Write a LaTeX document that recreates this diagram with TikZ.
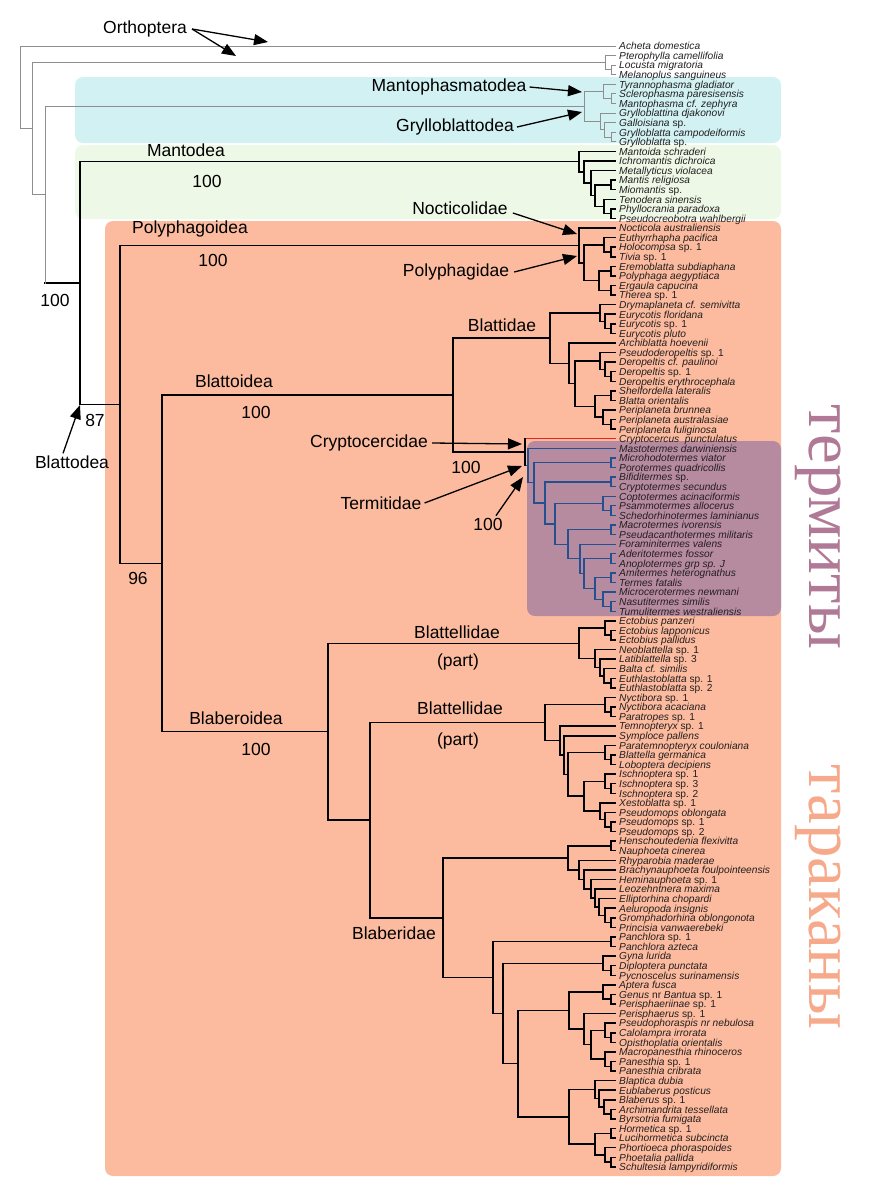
\documentclass[tikz,border=0pt]{standalone}
\usepackage{fontspec}
\setmainfont{Liberation Sans}
\newfontfamily\rufont{Liberation Serif}
\usetikzlibrary{arrows.meta}
\definecolor{trgray}{HTML}{8E8E8E}
\definecolor{trblue}{HTML}{24508F}
\definecolor{trred}{HTML}{E8221C}
\definecolor{spdark}{HTML}{231F20}
\definecolor{boxcyan}{HTML}{D1F1F3}
\definecolor{boxgreen}{HTML}{EEF8E7}
\definecolor{boxsalmon}{HTML}{FCBB9E}
\definecolor{boxmauve}{HTML}{B68A9F}
\definecolor{rumauve}{HTML}{B07A96}
\definecolor{rusalmon}{HTML}{F6AA8B}

\tikzset{
  sp/.style={anchor=base west, inner sep=0pt, text=spdark,
    font=\fontsize{10.2}{10}\selectfont\itshape},
  br/.style={line cap=rect},
  bk/.style={black, line width=1.5pt},
  gy/.style={trgray, line width=1pt},
  rd/.style={trred, line width=1.3pt},
  bu/.style={trblue, line width=1.3pt},
  lab/.style={inner sep=0pt, font=\fontsize{17.5}{18}\selectfont},
  ptr/.style={line width=1.3pt, -{Triangle[length=14pt,width=11pt]}},
  rulab/.style={rotate=-90, inner sep=0pt, font=\rufont\fontsize{67}{67}\selectfont},
}

% upright part of a species name
\newcommand\upt[1]{{\upshape #1}}
% a leaf: [line style]{id}{row}{name}
\newcommand\tip[4][bk]{%
  \pgfmathsetmacro\tipy{46+(#3-1)*9.58}%
  \expandafter\xdef\csname tx#2\endcsname{615}%
  \expandafter\xdef\csname ty#2\endcsname{\tipy}%
  \expandafter\xdef\csname tc#2\endcsname{#1}%
  \node[sp] (#2) at (619,\tipy+3.8) {#4};%
}
% an inner fork: [line style]{id}{x}{upper child}{lower child}
\newcommand\clade[5][bk]{%
  \edef\ya{\csname ty#4\endcsname}\edef\yb{\csname ty#5\endcsname}%
  \edef\xa{\csname tx#4\endcsname}\edef\xb{\csname tx#5\endcsname}%
  \edef\ca{\csname tc#4\endcsname}\edef\cb{\csname tc#5\endcsname}%
  \pgfmathsetmacro\ym{(\ya+\yb)/2}%
  \expandafter\xdef\csname tx#2\endcsname{#3}%
  \expandafter\xdef\csname ty#2\endcsname{\ym}%
  \expandafter\xdef\csname tc#2\endcsname{#1}%
  \edef\drawa{\noexpand\draw[br,\ca]}\edef\drawb{\noexpand\draw[br,\cb]}%
  \drawa (#3,\ya) -- (\xa,\ya);
  \drawb (#3,\yb) -- (\xb,\yb);
  \draw[br,#1] (#3,\ya) -- (#3,\yb);
}

\begin{document}
\begin{tikzpicture}[x=1pt,y=-1pt]
  \useasboundingbox (0,0) rectangle (873,1200);

  % ---- coloured panels ---------------------------------------
  \fill[boxcyan,rounded corners=8pt]   (75,77)   rectangle (781,143);
  \fill[boxgreen,rounded corners=8pt]  (75,145)  rectangle (781,219);
  \fill[boxsalmon,rounded corners=8pt] (105,221) rectangle (781,1176);
  \fill[boxmauve,rounded corners=8pt]  (527,441) rectangle (781,616);

  % ---- leaves -------------------------------------------------
  \tip[gy]{s1}{1}{Acheta domestica}
  \tip[gy]{s2}{2}{Pterophylla camellifolia}
  \tip[gy]{s3}{3}{Locusta migratoria}
  \tip[gy]{s4}{4}{Melanoplus sanguineus}
  \tip[gy]{s5}{5}{Tyrannophasma gladiator}
  \tip[gy]{s6}{6}{Sclerophasma paresisensis}
  \tip[gy]{s7}{7}{Mantophasma cf. zephyra}
  \tip[gy]{s8}{8}{Grylloblattina djakonovi}
  \tip[gy]{s9}{9}{Galloisiana \upt{sp.}}
  \tip[gy]{s10}{10}{Grylloblatta campodeiformis}
  \tip[gy]{s11}{11}{Grylloblatta \upt{sp.}}
  \tip{s12}{12}{Mantoida schraderi}
  \tip{s13}{13}{Ichromantis dichroica}
  \tip{s14}{14}{Metallyticus violacea}
  \tip{s15}{15}{Mantis religiosa}
  \tip{s16}{16}{Miomantis \upt{sp.}}
  \tip{s17}{17}{Tenodera sinensis}
  \tip{s18}{18}{Phyllocrania paradoxa}
  \tip{s19}{19}{Pseudocreobotra wahlbergii}
  \tip{s20}{20}{Nocticola australiensis}
  \tip{s21}{21}{Euthyrrhapha pacifica}
  \tip{s22}{22}{Holocompsa \upt{sp. 1}}
  \tip{s23}{23}{Tivia \upt{sp. 1}}
  \tip{s24}{24}{Eremoblatta subdiaphana}
  \tip{s25}{25}{Polyphaga aegyptiaca}
  \tip{s26}{26}{Ergaula capucina}
  \tip{s27}{27}{Therea \upt{sp. 1}}
  \tip{s28}{28}{Drymaplaneta cf. semivitta}
  \tip{s29}{29}{Eurycotis floridana}
  \tip{s30}{30}{Eurycotis \upt{sp. 1}}
  \tip{s31}{31}{Eurycotis pluto}
  \tip{s32}{32}{Archiblatta hoevenii}
  \tip{s33}{33}{Pseudoderopeltis \upt{sp. 1}}
  \tip{s34}{34}{Deropeltis cf. paulinoi}
  \tip{s35}{35}{Deropeltis \upt{sp. 1}}
  \tip{s36}{36}{Deropeltis erythrocephala}
  \tip{s37}{37}{Shelfordella lateralis}
  \tip{s38}{38}{Blatta orientalis}
  \tip{s39}{39}{Periplaneta brunnea}
  \tip{s40}{40}{Periplaneta australasiae}
  \tip{s41}{41}{Periplaneta fuliginosa}
  \tip[rd]{s42}{42}{Cryptocercus\ \ punctulatus}
  \tip[bu]{s43}{43}{Mastotermes darwiniensis}
  \tip[bu]{s44}{44}{Microhodotermes viator}
  \tip[bu]{s45}{45}{Porotermes quadricollis}
  \tip[bu]{s46}{46}{Bifiditermes \upt{sp.}}
  \tip[bu]{s47}{47}{Cryptotermes secundus}
  \tip[bu]{s48}{48}{Coptotermes acinaciformis}
  \tip[bu]{s49}{49}{Psammotermes allocerus}
  \tip[bu]{s50}{50}{Schedorhinotermes laminianus}
  \tip[bu]{s51}{51}{Macrotermes ivorensis}
  \tip[bu]{s52}{52}{Pseudacanthotermes militaris}
  \tip[bu]{s53}{53}{Foraminitermes valens}
  \tip[bu]{s54}{54}{Aderitotermes fossor}
  \tip[bu]{s55}{55}{Anoplotermes grp sp. J}
  \tip[bu]{s56}{56}{Amitermes heterognathus}
  \tip[bu]{s57}{57}{Termes fatalis}
  \tip[bu]{s58}{58}{Microcerotermes newmani}
  \tip[bu]{s59}{59}{Nasutitermes similis}
  \tip[bu]{s60}{60}{Tumulitermes westraliensis}
  \tip{s61}{61}{Ectobius panzeri}
  \tip{s62}{62}{Ectobius lapponicus}
  \tip{s63}{63}{Ectobius pallidus}
  \tip{s64}{64}{Neoblattella \upt{sp. 1}}
  \tip{s65}{65}{Latiblattella \upt{sp. 3}}
  \tip{s66}{66}{Balta cf. similis}
  \tip{s67}{67}{Euthlastoblatta \upt{sp. 1}}
  \tip{s68}{68}{Euthlastoblatta \upt{sp. 2}}
  \tip{s69}{69}{Nyctibora \upt{sp. 1}}
  \tip{s70}{70}{Nyctibora acaciana}
  \tip{s71}{71}{Paratropes \upt{sp. 1}}
  \tip{s72}{72}{Temnopteryx \upt{sp. 1}}
  \tip{s73}{73}{Symploce pallens}
  \tip{s74}{74}{Paratemnopteryx couloniana}
  \tip{s75}{75}{Blattella germanica}
  \tip{s76}{76}{Loboptera decipiens}
  \tip{s77}{77}{Ischnoptera \upt{sp. 1}}
  \tip{s78}{78}{Ischnoptera \upt{sp. 3}}
  \tip{s79}{79}{Ischnoptera \upt{sp. 2}}
  \tip{s80}{80}{Xestoblatta \upt{sp. 1}}
  \tip{s81}{81}{Pseudomops oblongata}
  \tip{s82}{82}{Pseudomops \upt{sp. 1}}
  \tip{s83}{83}{Pseudomops \upt{sp. 2}}
  \tip{s84}{84}{Henschoutedenia flexivitta}
  \tip{s85}{85}{Nauphoeta cinerea}
  \tip{s86}{86}{Rhyparobia maderae}
  \tip{s87}{87}{Brachynauphoeta foulpointeensis}
  \tip{s88}{88}{Heminauphoeta \upt{sp. 1}}
  \tip{s89}{89}{Leozehntnera maxima}
  \tip{s90}{90}{Elliptorhina chopardi}
  \tip{s91}{91}{Aeluropoda insignis}
  \tip{s92}{92}{Gromphadorhina oblongonota}
  \tip{s93}{93}{Princisia vanwaerebeki}
  \tip{s94}{94}{Panchlora \upt{sp. 1}}
  \tip{s95}{95}{Panchlora azteca}
  \tip{s96}{96}{Gyna lurida}
  \tip{s97}{97}{Diploptera punctata}
  \tip{s98}{98}{Pycnoscelus surinamensis}
  \tip{s99}{99}{Aptera fusca}
  \tip{s100}{100}{Genus \upt{nr} Bantua \upt{sp. 1}}
  \tip{s101}{101}{Perisphaeriinae \upt{sp. 1}}
  \tip{s102}{102}{Perisphaerus \upt{sp. 1}}
  \tip{s103}{103}{Pseudophoraspis nr nebulosa}
  \tip{s104}{104}{Calolampra irrorata}
  \tip{s105}{105}{Opisthoplatia orientalis}
  \tip{s106}{106}{Macropanesthia rhinoceros}
  \tip{s107}{107}{Panesthia \upt{sp. 1}}
  \tip{s108}{108}{Panesthia cribrata}
  \tip{s109}{109}{Blaptica dubia}
  \tip{s110}{110}{Eublaberus posticus}
  \tip{s111}{111}{Blaberus \upt{sp. 1}}
  \tip{s112}{112}{Archimandrita tessellata}
  \tip{s113}{113}{Byrsotria fumigata}
  \tip{s114}{114}{Hormetica \upt{sp. 1}}
  \tip{s115}{115}{Lucihormetica subcincta}
  \tip{s116}{116}{Phortioeca phoraspoides}
  \tip{s117}{117}{Phoetalia pallida}
  \tip{s118}{118}{Schultesia lampyridiformis}

  % ---- Orthoptera, Mantophasmatodea, Grylloblattodea ----------
  \clade[gy]{o1}{611}{s3}{s4}
  \clade[gy]{o2}{605}{s2}{o1}
  \clade[gy]{mp1}{611}{s6}{s7}
  \clade[gy]{mp}{603}{s5}{mp1}
  \clade[gy]{gb1}{611}{s10}{s11}
  \clade[gy]{gb2}{604}{s9}{gb1}
  \clade[gy]{gb}{600}{s8}{gb2}
  \clade[gy]{mg}{584}{mp}{gb}

  % ---- Mantodea -----------------------------------------------
  \clade{md1}{611}{s15}{s16}
  \clade{md2}{611}{s18}{s19}
  \clade{md3}{604}{s17}{md2}
  \clade{md4}{595}{md1}{md3}
  \clade{md5}{591}{s14}{md4}
  \clade{md6}{584}{s13}{md5}
  \clade{md}{579}{s12}{md6}

  % ---- Polyphagoidea ------------------------------------------
  \clade{py1}{611}{s22}{s23}
  \clade{py2}{604}{s21}{py1}
  \clade{py3}{611}{s24}{s25}
  \clade{py4}{611}{s26}{s27}
  \clade{py5}{599}{py3}{py4}
  \clade{py6}{584}{py2}{py5}
  \clade{py}{579}{s20}{py6}

  % ---- Blattidae ----------------------------------------------
  \clade{bt1}{611}{s30}{s31}
  \clade{bt2}{605}{s29}{bt1}
  \clade{bt3}{600}{s28}{bt2}
  \clade{bt4}{611}{s35}{s36}
  \clade{bt5}{605}{s34}{bt4}
  \clade{bt6}{600}{s33}{bt5}
  \clade{bt7}{611}{s37}{s38}
  \clade{bt8}{611}{s40}{s41}
  \clade{bt9}{603}{s39}{bt8}
  \clade{bt10}{595}{bt7}{bt9}
  \clade{bt11}{575}{bt6}{bt10}
  \clade{bt12}{569}{s32}{bt11}
  \clade{bt}{550}{bt3}{bt12}

  % ---- termites and Cryptocercus ------------------------------
  \clade[bu]{tm1}{611}{s44}{s45}
  \clade[bu]{tm2}{611}{s46}{s47}
  \clade[bu]{tm3}{611}{s49}{s50}
  \clade[bu]{tm4}{603}{s48}{tm3}
  \clade[bu]{tm5}{611}{s51}{s52}
  \clade[bu]{tm6}{611}{s54}{s55}
  \clade[bu]{tm7}{611}{s56}{s57}
  \clade[bu]{tm8}{611}{s59}{s60}
  \clade[bu]{tm9}{603}{s58}{tm8}
  \clade[bu]{tm10}{595}{tm7}{tm9}
  \clade[bu]{tm11}{584}{tm6}{tm10}
  \clade[bu]{tm12}{580}{s53}{tm11}
  \clade[bu]{tm13}{568}{tm5}{tm12}
  \clade[bu]{tm14}{555}{tm4}{tm13}
  \clade[bu]{tm15}{545}{tm2}{tm14}
  \clade[bu]{tm16}{534}{tm1}{tm15}
  \clade[bu]{tm}{528}{s43}{tm16}
  \clade{cr}{525}{s42}{tm}
  \clade{bo}{453}{bt}{cr}

  % ---- Blattellidae (part) ------------------------------------
  \clade{e1}{611}{s62}{s63}
  \clade{e2}{605}{s61}{e1}
  \clade{e3}{611}{s67}{s68}
  \clade{e4}{604}{s66}{e3}
  \clade{e5}{600}{s65}{e4}
  \clade{e6}{595}{s64}{e5}
  \clade{ea}{579}{e2}{e6}
  \clade{f1}{611}{s70}{s71}
  \clade{f2}{605}{s69}{f1}
  \clade{f3}{611}{s75}{s76}
  \clade{f4}{605}{s74}{f3}
  \clade{f5}{611}{s78}{s79}
  \clade{f6}{605}{s77}{f5}
  \clade{f7}{611}{s82}{s83}
  \clade{f8}{605}{s81}{f7}
  \clade{f9}{600}{s80}{f8}
  \clade{f10}{584}{f6}{f9}
  \clade{f11}{568}{f4}{f10}
  \clade{f12}{564}{s73}{f11}
  \clade{f13}{560}{s72}{f12}
  \clade{fb}{545}{f2}{f13}

  % ---- Blaberidae ---------------------------------------------
  \clade{g1}{611}{s84}{s85}
  \clade{g2}{611}{s92}{s93}
  \clade{g3}{605}{s91}{g2}
  \clade{g4}{599}{s90}{g3}
  \clade{g5}{595}{s89}{g4}
  \clade{g6}{591}{s88}{g5}
  \clade{g7}{584}{s87}{g6}
  \clade{g8}{579}{s86}{g7}
  \clade{g9}{568}{g1}{g8}
  \clade{h1}{611}{s94}{s95}
  \clade{h2}{611}{s97}{s98}
  \clade{h3}{603}{s96}{h2}
  \clade{h4}{611}{s100}{s101}
  \clade{h5}{603}{s99}{h4}
  \clade{h6}{611}{s104}{s105}
  \clade{h7}{605}{s103}{h6}
  \clade{h8}{611}{s107}{s108}
  \clade{h9}{605}{s106}{h8}
  \clade{h10}{591}{h7}{h9}
  \clade{h11}{584}{s102}{h10}
  \clade{h12}{569}{h5}{h11}
  \clade{h13}{611}{s112}{s113}
  \clade{h14}{604}{s111}{h13}
  \clade{h15}{599}{s110}{h14}
  \clade{h16}{595}{s109}{h15}
  \clade{h17}{611}{s114}{s115}
  \clade{h18}{611}{s117}{s118}
  \clade{h19}{605}{s116}{h18}
  \clade{h20}{595}{h17}{h19}
  \clade{h21}{569}{h16}{h20}
  \clade{h22}{518}{h12}{h21}
  \clade{h23}{503}{h3}{h22}
  \clade{h24}{493}{h1}{h23}
  \clade{bb}{443}{g9}{h24}

  % ---- backbone -----------------------------------------------
  \clade{k1}{370}{fb}{bb}
  \clade{bl}{328}{ea}{k1}
  \clade{k2}{162}{bo}{bl}
  \clade{bd}{120}{py}{k2}
  \clade{z}{80}{md}{bd}
  \clade[gy]{y}{45}{mg}{z}
  \clade[gy]{x}{32}{o2}{y}
  \clade[gy]{root}{20}{s1}{x}

  % ---- group names and support values -------------------------
  \node[lab] (lOrth) at (145,29)  {Orthoptera};
  \node[lab] (lMph)  at (449,87)  {Mantophasmatodea};
  \node[lab] (lGrb)  at (455,127) {Grylloblattodea};
  \node[lab] (lMtd)  at (186,150) {Mantodea};
  \node[lab] (vMtd)  at (207,181) {100};
  \node[lab] (lNoc)  at (460,208) {Nocticolidae};
  \node[lab] (lPyo)  at (190,229) {Polyphagoidea};
  \node[lab] (vPyo)  at (213,260) {100};
  \node[lab] (lPyd)  at (456,272) {Polyphagidae};
  \node[lab] (lBtd)  at (502,325) {Blattidae};
  \node[lab] (lBto)  at (234,381) {Blattoidea};
  \node[lab] (vBto)  at (256,412) {100};
  \node[lab] (lCry)  at (369,443) {Cryptocercidae};
  \node[lab] (vCry)  at (466,467) {100};
  \node[lab] (lTer)  at (381,503) {Termitidae};
  \node[lab] (vTer)  at (488,524) {100};
  \node[lab] (lBe1)  at (457,632) {Blattellidae};
  \node[lab] (pBe1)  at (458,662) {(part)};
  \node[lab] (lBe2)  at (460,708) {Blattellidae};
  \node[lab] (pBe2)  at (458,741) {(part)};
  \node[lab] (lBlo)  at (236,718) {Blaberoidea};
  \node[lab] (vBlo)  at (256,749) {100};
  \node[lab] (lBld)  at (394,933) {Blaberidae};
  \node[lab] (vRt)   at (55,300)  {100};
  \node[lab] (vBd)   at (95,420)  {87};
  \node[lab] (vK2)   at (138,578) {96};
  \node[lab] (lBd)   at (72,462)  {Blattodea};

  % ---- pointers -----------------------------------------------
  \coordinate (aOrth1) at (268,42);
  \coordinate (aOrth2) at (236,56);
  \coordinate (aMph)   at (582,92);
  \coordinate (aGrb)   at (582,112);
  \coordinate (aNoc)   at (577,234);
  \coordinate (aPyd)   at (577,256);
  \coordinate (aCry)   at (522,444);
  \coordinate (aTer)   at (522,466);
  \coordinate (aTer2)  at (523,477);
  \coordinate (aBd)    at (80,405);
  \draw[ptr] ([xshift=5pt]lOrth.east) -- (aOrth1);
  \draw[ptr] ([xshift=5pt]lOrth.east) -- (aOrth2);
  \draw[ptr] ([xshift=3pt]lMph.east) -- (aMph);
  \draw[ptr] ([xshift=3pt]lGrb.east) -- (aGrb);
  \draw[ptr] ([xshift=5pt,yshift=-5pt]lNoc.east) -- (aNoc);
  \draw[ptr] ([xshift=5pt]lPyd.east) -- (aPyd);
  \draw[ptr] ([xshift=4pt]lCry.east) -- (aCry);
  \draw[ptr] ([xshift=3pt]lTer.east) -- (aTer);
  \draw[ptr] ([xshift=8pt,yshift=2pt]vTer.north) -- (aTer2);
  \draw[ptr] ([xshift=-9pt,yshift=2pt]lBd.north) -- (aBd);

  % ---- Russian side titles ------------------------------------
  \node[rulab,text=rumauve]  (ruT) at (818,527) {термиты};
  \node[rulab,text=rusalmon] (ruC) at (818,897) {тараканы};

\end{tikzpicture}
\end{document}
